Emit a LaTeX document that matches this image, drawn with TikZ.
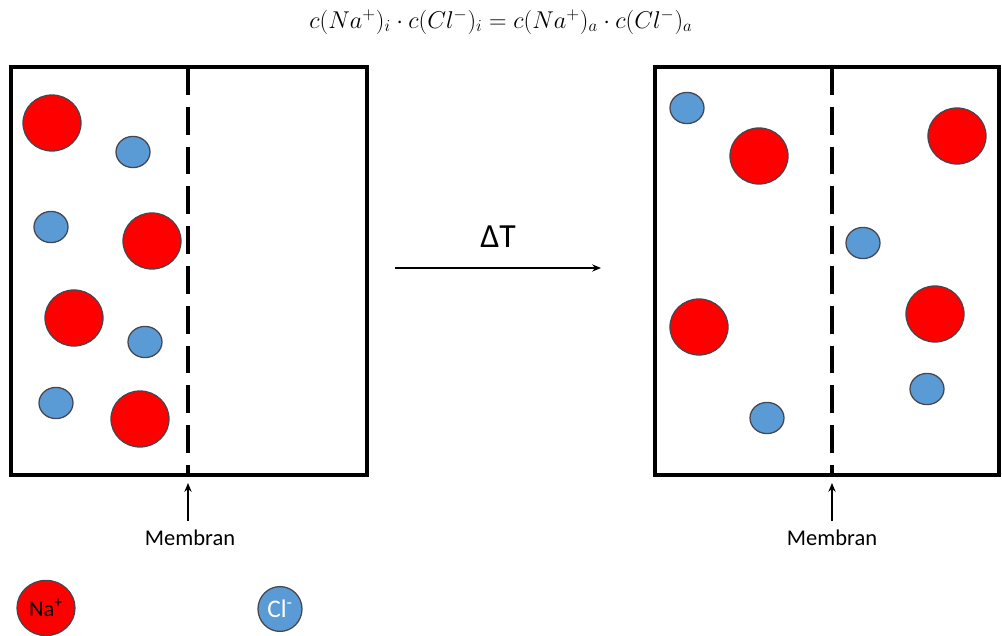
\documentclass[tikz,border=0pt]{standalone}
\usepackage{fontspec}
\setmainfont{Carlito}
\usepackage{tikz}
\usetikzlibrary{positioning,arrows.meta,shapes.geometric}
\definecolor{nared}{RGB}{255,0,0}
\definecolor{clblue}{RGB}{91,155,213}
\definecolor{rimgray}{RGB}{70,70,80}

\begin{document}
\begin{tikzpicture}[
  x=0.025cm, y=-0.025cm,
  wall/.style={line width=2.3pt},
  membrane/.style={line width=2.3pt, dash pattern=on 19.8pt off 8.5pt},
  na/.style={ellipse, fill=nared, draw=rimgray, line width=0.9pt, minimum width=1.45cm, minimum height=1.4cm, inner sep=0pt},
  cl/.style={ellipse, fill=clblue, draw=rimgray, line width=0.9pt, minimum width=0.85cm, minimum height=0.78cm, inner sep=0pt},
  lbl/.style={font=\fontsize{16}{19}\selectfont},
  arr/.style={-{Stealth[length=2.2mm, width=1.8mm]}, line width=0.9pt}
]
  \useasboundingbox (0,0) rectangle (1002,636);

  % equation
  \node (eq) at (501,22) {\fontsize{17.3}{20}\selectfont
    $c(Na^{+})_i\cdot c(Cl^{-})_i = c(Na^{+})_a\cdot c(Cl^{-})_a$};

  % left container
  \draw[wall] (11,67) rectangle (367,475);
  \coordinate (mtopL) at (188,67);
  \coordinate (mbotL) at (188,475);
  \draw[membrane] (mtopL) -- (mbotL);

  \node[na] (naL1) at (52,123) {};
  \node[na] (naL2) at (152,241) {};
  \node[na] (naL3) at (74,318) {};
  \node[na] (naL4) at (140,419) {};
  \node[cl] (clL1) at (133,152) {};
  \node[cl] (clL2) at (51,227) {};
  \node[cl] (clL3) at (145,342) {};
  \node[cl] (clL4) at (56,403) {};

  % right container
  \draw[wall] (655,67) rectangle (999,475);
  \coordinate (mtopR) at (832,67);
  \coordinate (mbotR) at (832,475);
  \draw[membrane] (mtopR) -- (mbotR);

  \node[na] (naR1) at (759,156) {};
  \node[na] (naR2) at (957,136) {};
  \node[na] (naR3) at (699,327) {};
  \node[na] (naR4) at (935,314) {};
  \node[cl] (clR1) at (687,108) {};
  \node[cl] (clR2) at (863,243) {};
  \node[cl] (clR3) at (927,389) {};
  \node[cl] (clR4) at (767,418) {};

  % temperature change
  \coordinate (dtstart) at (395,268);
  \coordinate (dtend) at (601,268);
  \draw[arr] (dtstart) -- node[above=11pt, font=\fontsize{24}{28}\selectfont] (dt) {ΔT} (dtend);

  % membrane labels
  \node[lbl] (memL) at (190,538) {Membran};
  \node[lbl] (memR) at (832,538) {Membran};
  \coordinate (tipL) at (188,483);
  \coordinate (tipR) at (832,483);
  \draw[arr] (memL.north -| tipL) ++(0,-4) -- (tipL);
  \draw[arr] (memR.north -| tipR) ++(0,-4) -- (tipR);

  % legend
  \node[na, minimum width=1.45cm, minimum height=1.38cm, lbl] (keyNa) at (46,608) {Na\textsuperscript{+}};
  \node[cl, minimum width=1.1cm, minimum height=1.12cm, font=\fontsize{18}{21}\selectfont, text=white] (keyCl) at (280,609) {Cl\textsuperscript{-}};
\end{tikzpicture}
\end{document}
